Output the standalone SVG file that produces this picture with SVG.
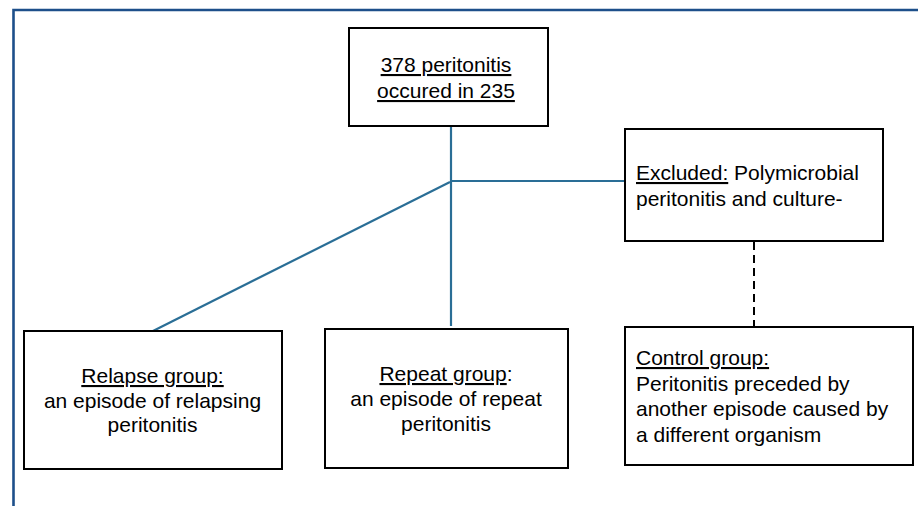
<svg xmlns="http://www.w3.org/2000/svg" width="918" height="506" viewBox="0 0 918 506">
<style>
  .box { fill: #ffffff; stroke: #000000; stroke-width: 2; }
  .t { font-family: "Liberation Sans", Arial, sans-serif; font-size: 21px; fill: #000000; }
  .u { text-decoration: underline; }
  .link { stroke: #2a6e96; stroke-width: 2.2; fill: none; }
  .dash { stroke: #000000; stroke-width: 2; stroke-dasharray: 8 5; fill: none; }
</style>
<rect x="0" y="0" width="918" height="506" fill="#ffffff"/>
<path d="M13.5 506 V10 H918" fill="none" stroke="#1d4f8a" stroke-width="2.6"/>
<g id="connectors">
  <line class="link" x1="451" y1="127" x2="451" y2="326"/>
  <line class="link" x1="451" y1="181" x2="624" y2="181"/>
  <line class="link" x1="450" y1="182" x2="153" y2="331"/>
  <line class="dash" x1="754" y1="242" x2="754" y2="327"/>
</g>
<g id="top">
  <rect class="box" x="349" y="28" width="199" height="98"/>
  <text class="t" text-anchor="middle"><tspan class="u" x="446" y="72">378 peritonitis</tspan><tspan class="u" x="446" y="98">occured in 235</tspan></text>
</g>
<g id="excluded">
  <rect class="box" x="625" y="129" width="258" height="112"/>
  <text class="t"><tspan x="636" y="180"><tspan class="u">Excluded:</tspan> Polymicrobial</tspan><tspan x="636" y="206">peritonitis and culture-</tspan></text>
</g>
<g id="relapse">
  <rect class="box" x="24" y="331" width="258" height="138"/>
  <text class="t" text-anchor="middle"><tspan class="u" x="152.5" y="383">Relapse group:</tspan><tspan x="152.5" y="407.5">an episode of relapsing</tspan><tspan x="152.5" y="432">peritonitis</tspan></text>
</g>
<g id="repeat">
  <rect class="box" x="325" y="329" width="243" height="139"/>
  <text class="t" text-anchor="middle"><tspan x="446" y="381"><tspan class="u">Repeat group</tspan>:</tspan><tspan x="446" y="406">an episode of repeat</tspan><tspan x="446" y="431">peritonitis</tspan></text>
</g>
<g id="control">
  <rect class="box" x="625" y="327" width="288" height="138"/>
  <text class="t"><tspan class="u" x="636" y="365">Control group:</tspan><tspan x="636" y="391">Peritonitis preceded by</tspan><tspan x="636" y="416">another episode caused by</tspan><tspan x="636" y="442">a different organism</tspan></text>
</g>
</svg>
